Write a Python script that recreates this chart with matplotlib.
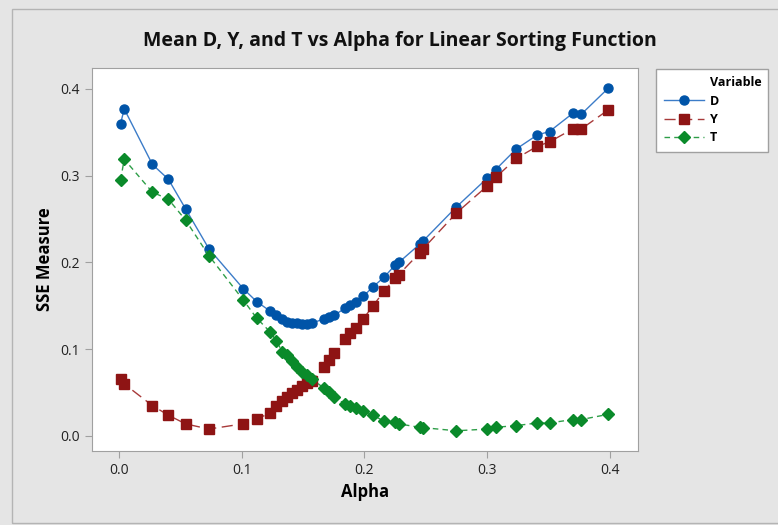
import matplotlib; matplotlib.use("Agg")
import matplotlib.pyplot as plt
from matplotlib.lines import Line2D
from matplotlib.patches import Rectangle

alpha = [0.001, 0.004, 0.027, 0.040, 0.054, 0.073, 0.101, 0.112, 0.123,
         0.128, 0.133, 0.137, 0.141, 0.145, 0.149, 0.153, 0.157,
         0.167, 0.171, 0.175, 0.184, 0.188, 0.193, 0.199, 0.207, 0.216, 0.225, 0.228,
         0.245, 0.248, 0.275, 0.300, 0.307, 0.324, 0.341, 0.351, 0.370, 0.377, 0.399]
d_vals = [0.360, 0.377, 0.313, 0.296, 0.262, 0.216, 0.170, 0.155, 0.144,
          0.139, 0.135, 0.131, 0.130, 0.130, 0.129, 0.129, 0.130,
          0.135, 0.137, 0.139, 0.147, 0.151, 0.155, 0.161, 0.172, 0.183, 0.197, 0.200,
          0.221, 0.225, 0.264, 0.297, 0.307, 0.331, 0.347, 0.351, 0.372, 0.371, 0.401]
y_vals = [0.066, 0.060, 0.035, 0.024, 0.014, 0.008, 0.014, 0.020, 0.026,
          0.034, 0.040, 0.045, 0.050, 0.053, 0.058, 0.061, 0.063,
          0.080, 0.088, 0.096, 0.112, 0.119, 0.125, 0.135, 0.150, 0.167, 0.182, 0.186,
          0.211, 0.216, 0.257, 0.288, 0.298, 0.320, 0.334, 0.339, 0.354, 0.354, 0.376]
t_vals = [0.295, 0.319, 0.281, 0.273, 0.249, 0.208, 0.157, 0.136, 0.120,
          0.110, 0.097, 0.093, 0.086, 0.080, 0.074, 0.070, 0.066,
          0.055, 0.051, 0.045, 0.037, 0.034, 0.032, 0.029, 0.024, 0.017, 0.016, 0.014,
          0.010, 0.0096, 0.006, 0.008, 0.010, 0.012, 0.015, 0.015, 0.019, 0.019, 0.025]
xticks = [0.0, 0.1, 0.2, 0.3, 0.4]
yticks = [0.0, 0.1, 0.2, 0.3, 0.4]

BG = "#E5E5E5"; EDGE = "#A0A0A0"
BLUE_M = "#0054A8"; BLUE_L = "#3C7CC8"
RED_M = "#8E1414"; RED_L = "#A83A3A"
GRN_M = "#0A8A2A"; GRN_L = "#2E9E48"

plt.rcParams["font.family"] = ["Open Sans", "DejaVu Sans"]

fig = plt.figure(figsize=(7.78, 5.25), dpi=100, facecolor=BG)
fig.patches.append(Rectangle((12/778, 2/525), 1.0, 514/525, transform=fig.transFigure,
                             fill=False, edgecolor="#B4B4B4", lw=1.0))
ax = fig.add_axes([92/778, 74/525, 546/778, 383/525])

ax.plot(alpha, d_vals, color=BLUE_L, lw=1.0, marker="o", ms=6.5,
        mfc=BLUE_M, mec=BLUE_M, label="D")
ax.plot(alpha, y_vals, color=RED_L, lw=1.0, ls=(0, (8, 4)), marker="s", ms=6.5,
        mfc=RED_M, mec=RED_M, label="Y")
ax.plot(alpha, t_vals, color=GRN_L, lw=1.0, ls=(0, (4, 3)), marker="D", ms=6.5,
        mfc=GRN_M, mec=GRN_M, label="T")

ax.set_xlim(-0.0223, 0.4232)
ax.set_ylim(-0.0173, 0.4242)
ax.set_xticks(xticks); ax.set_yticks(yticks)
ax.set_xticklabels([f"{v:.1f}" for v in xticks])
ax.set_yticklabels([f"{v:.1f}" for v in yticks])
ax.tick_params(colors=EDGE, labelcolor="#222222", labelsize=10, length=5)
for s in ax.spines.values():
    s.set_color(EDGE)
ax.set_xlabel("Alpha", fontsize=12, fontweight="bold", labelpad=4)
ax.set_ylabel("SSE Measure", fontsize=12, fontweight="bold", labelpad=5)
fig.text(400/778, 1 - 41/525, "Mean D, Y, and T vs Alpha for Linear Sorting Function",
         ha="center", va="center", fontsize=14, fontweight="bold", color="#111111")

handles = [Line2D([], [], color="none", label="Variable")] + ax.get_lines()
leg = fig.legend(handles=handles, labels=["Variable", "D", "Y", "T"],
                 loc="upper left", bbox_to_anchor=(656/778, 1 - 69/525, 112/778, 0.0),
                 mode="expand", prop={"weight": "bold", "size": 9}, handlelength=3.2,
                 handletextpad=0.5, fancybox=False, framealpha=1, edgecolor=EDGE,
                 labelspacing=0.42, borderpad=0.6, borderaxespad=0)

fig.savefig("out.png", dpi=100, facecolor=BG)
